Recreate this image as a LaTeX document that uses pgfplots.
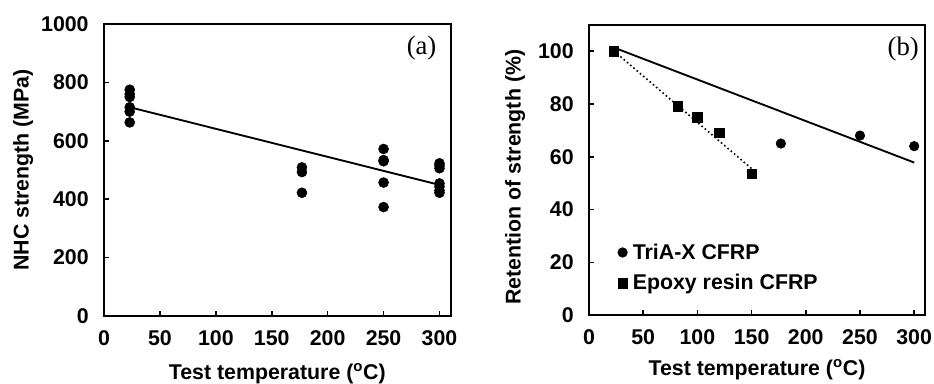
\documentclass[border=0pt]{standalone}
\usepackage{pgfplots}
\pgfplotsset{compat=1.18}
\usepackage{fontspec}
\setmainfont{Liberation Sans}
\newfontfamily\timesfont{Liberation Serif}
\newcommand{\bigbf}{\fontsize{16}{18}\selectfont\bfseries}
\pgfplotsset{
 mylegend/.style={legend image code/.code={\draw[mark repeat=2,mark phase=2,##1] plot coordinates {(0cm,0cm)(0.15cm,0cm)(0.3cm,0cm)};}},
 mystyle/.style={
  scale only axis,
  axis line style={line width=1.6pt},
  every tick/.style={line width=1.2pt, black},
  tick align=inside,
  major tick length=4pt,
  xmin=0, xmax=310, xtick={0,50,...,300},
  ymin=0,
  xtick pos=bottom, ytick pos=left,
  /pgf/number format/assume math mode=true,
  /pgf/number format/set thousands separator={},
  ticklabel style={font=\bigbf},
  label style={font=\bigbf},
  yticklabel style={xshift=-8pt},
  xticklabel style={yshift=-7.5pt},
  clip=false,
 }
}
\begin{document}
\begin{tikzpicture}
\useasboundingbox (0pt,0pt) rectangle (700.5pt,287.25pt);
\begin{axis}[mystyle, at={(78pt,50.25pt)}, anchor=south west,
  width=260pt, height=219pt,
  ymax=1000, ytick={0,200,...,1000},
  xlabel={Test temperature (\textsuperscript{o}C)},
  ylabel={NHC strength (MPa)},
  x label style={at={(axis description cs:0.5,-0.219)},anchor=base},
  y label style={at={(axis description cs:-0.233,0.5)},anchor=center},
]
\addplot[only marks, mark=*, mark size=3.75pt, black] coordinates {
(23,775)(23,760)(23,750)(23,715)(23,700)(23,663)
(177,509)(177,493)(177,422)
(250,572)(250,534)(250,530)(250,457)(250,373)
(300,523)(300,515)(300,506)(300,454)(300,443)(300,430)(300,422)
};
\addplot[black, line width=1.4pt] coordinates {(23,715)(300,449)};
\node[font=\timesfont\fontsize{20}{22}\selectfont] at (rel axis cs:0.916,0.917) {(a)};
\end{axis}
\begin{axis}[mystyle, at={(441.75pt,50.8pt)}, anchor=south west,
  width=252pt, height=218pt,
  ymax=110, ytick={0,20,...,100},
  xlabel={Test temperature (\textsuperscript{o}C)},
  ylabel={Retention of strength (\%)},
  x label style={at={(axis description cs:0.5,-0.207)},anchor=base},
  y label style={at={(axis description cs:-0.22,0.475)},anchor=center},
  legend style={draw=none, fill=none, at={(axis description cs:0.085,0.07)}, anchor=south west, font=\bigbf, row sep=6pt, inner sep=0pt, nodes={inner sep=2pt, inner xsep=4pt}},
  legend cell align=left,
]
\addplot[only marks, mark=*, mark size=3.6pt, black, mylegend] coordinates {
(23,100)(177,65)(250,68)(300,64)
};
\addlegendentry{TriA-X CFRP}
\addplot[only marks, mark=square*, mark size=3.6pt, black, mylegend] coordinates {
(23,100)(82,79)(100,75)(120,69)(150,53.5)
};
\addlegendentry{Epoxy resin CFRP}
\addplot[black, line width=1.4pt, forget plot] coordinates {(23,101.3)(300,57.8)};
\addplot[black, line width=1.2pt, dotted, forget plot] coordinates {(23,100)(150,55.5)};
\node[font=\timesfont\fontsize{20}{22}\selectfont] at (rel axis cs:0.935,0.917) {(b)};
\end{axis}
\end{tikzpicture}
\end{document}
